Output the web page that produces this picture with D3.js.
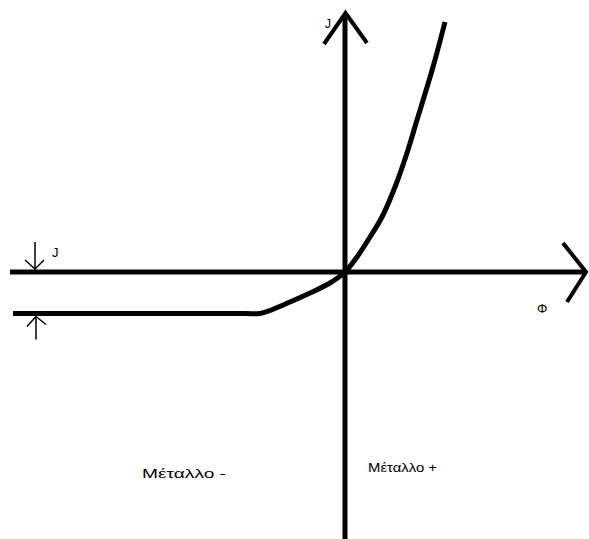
<!DOCTYPE html>
<html>
<head>
<meta charset="utf-8">
<script src="https://cdn.jsdelivr.net/npm/d3@7"></script>
<style>
  body { margin: 0; background: #fff; }
  text { font-family: "Liberation Sans", Arial, sans-serif; fill: #000; }
</style>
</head>
<body>
<div id="wrapper"></div>
<script>
// J(Φ) curve (1 unit = 10px)
const phiValues = [-33.2, -10.0, -8.5, -7.5, -5.5, -3.5, -1.5, 0, 1.2, 2.5, 3.7, 5.0, 6.2, 7.2, 8.8, 10.0];
const jValues   = [-4.15, -4.15, -4.15, -3.85, -3.0, -2.1, -1.1, 0, 1.5, 3.5, 5.5, 8.5, 11.9, 15.2, 20.5, 25.0];
const jSat = -4.15;
const regionLabels = ["Μέταλλο -", "Μέταλλο +"];
const axisLabels = ["Φ", "J"];

function drawChart() {
    const width = 589;
    const height = 539;

    const canvas = d3.select("#wrapper")
        .append("svg")
        .attr("width", width)
        .attr("height", height);

    const xScale = d3.scaleLinear()
        .domain([-33.5, 24.1])
        .range([10, 586]);

    const yScale = d3.scaleLinear()
        .domain([-26.7, 25.9])
        .range([539, 13]);

    const x0 = xScale(0), y0 = yScale(0);

    // axes
    canvas.append("line")
        .attr("x1", xScale(-33.5)).attr("x2", xScale(24.0))
        .attr("y1", y0).attr("y2", y0)
        .attr("stroke", "black").attr("stroke-width", 5);
    canvas.append("line")
        .attr("x1", x0).attr("x2", x0)
        .attr("y1", yScale(-26.7)).attr("y2", yScale(25.7))
        .attr("stroke", "black").attr("stroke-width", 5);

    // arrow heads on the axes
    const head = d3.line();
    canvas.append("path")
        .attr("d", head([[xScale(21.8), yScale(2.9)], [xScale(24.1), y0], [xScale(22.2), yScale(-3.0)]]))
        .attr("fill", "none").attr("stroke", "black").attr("stroke-width", 4)
        .attr("stroke-linejoin", "miter");
    canvas.append("path")
        .attr("d", head([[xScale(-2.1), yScale(22.8)], [xScale(0.05), yScale(25.9)], [xScale(2.2), yScale(22.9)]]))
        .attr("fill", "none").attr("stroke", "black").attr("stroke-width", 4)
        .attr("stroke-linejoin", "miter");

    // J(Φ) curve
    const curveData = phiValues.map((p, i) => ({ phi: p, j: jValues[i] }));
    const line = d3.line()
        .x(d => xScale(d.phi))
        .y(d => yScale(d.j))
        .curve(d3.curveCatmullRom.alpha(0.5));
    canvas.append("path")
        .datum(curveData)
        .attr("d", line)
        .attr("fill", "none")
        .attr("stroke", "black")
        .attr("stroke-width", 5);

    // small arrows marking the saturation current
    const ax = xScale(-31.0);
    canvas.append("line")
        .attr("x1", ax).attr("x2", ax)
        .attr("y1", yScale(3.0)).attr("y2", yScale(0.3))
        .attr("stroke", "black").attr("stroke-width", 1.5);
    canvas.append("path")
        .attr("d", head([[ax - 10, yScale(1.2)], [ax, yScale(0.3)], [ax + 9, yScale(1.2)]]))
        .attr("fill", "none").attr("stroke", "black").attr("stroke-width", 1.5);
    const bx = xScale(-30.9);
    canvas.append("line")
        .attr("x1", bx).attr("x2", bx)
        .attr("y1", yScale(jSat - 2.6)).attr("y2", yScale(jSat - 0.3))
        .attr("stroke", "black").attr("stroke-width", 1.5);
    canvas.append("path")
        .attr("d", head([[bx - 9, yScale(jSat - 1.3)], [bx, yScale(jSat - 0.3)], [bx + 10, yScale(jSat - 1.1)]]))
        .attr("fill", "none").attr("stroke", "black").attr("stroke-width", 1.5);

    // labels
    canvas.append("text")
        .attr("x", xScale(-29.3)).attr("y", yScale(1.5))
        .attr("font-size", 13)
        .text(axisLabels[1]);
    canvas.append("text")
        .attr("x", xScale(-2.0)).attr("y", yScale(24.4))
        .attr("font-size", 12)
        .text(axisLabels[1]);
    canvas.append("text")
        .attr("x", xScale(19.2)).attr("y", yScale(-4.1))
        .attr("font-size", 13)
        .text(axisLabels[0]);

    canvas.selectAll(".region")
        .data(regionLabels)
        .enter().append("text")
        .attr("class", "region")
        .attr("x", (d, i) => i === 0 ? xScale(-20.3) : xScale(2.3))
        .attr("y", (d, i) => i === 0 ? yScale(-20.6) : yScale(-20.0))
        .attr("font-size", 13.5)
        .attr("textLength", (d, i) => i === 0 ? 84 : 69)
        .attr("lengthAdjust", "spacingAndGlyphs")
        .text(d => d);
}
drawChart();
</script>
</body>
</html>
